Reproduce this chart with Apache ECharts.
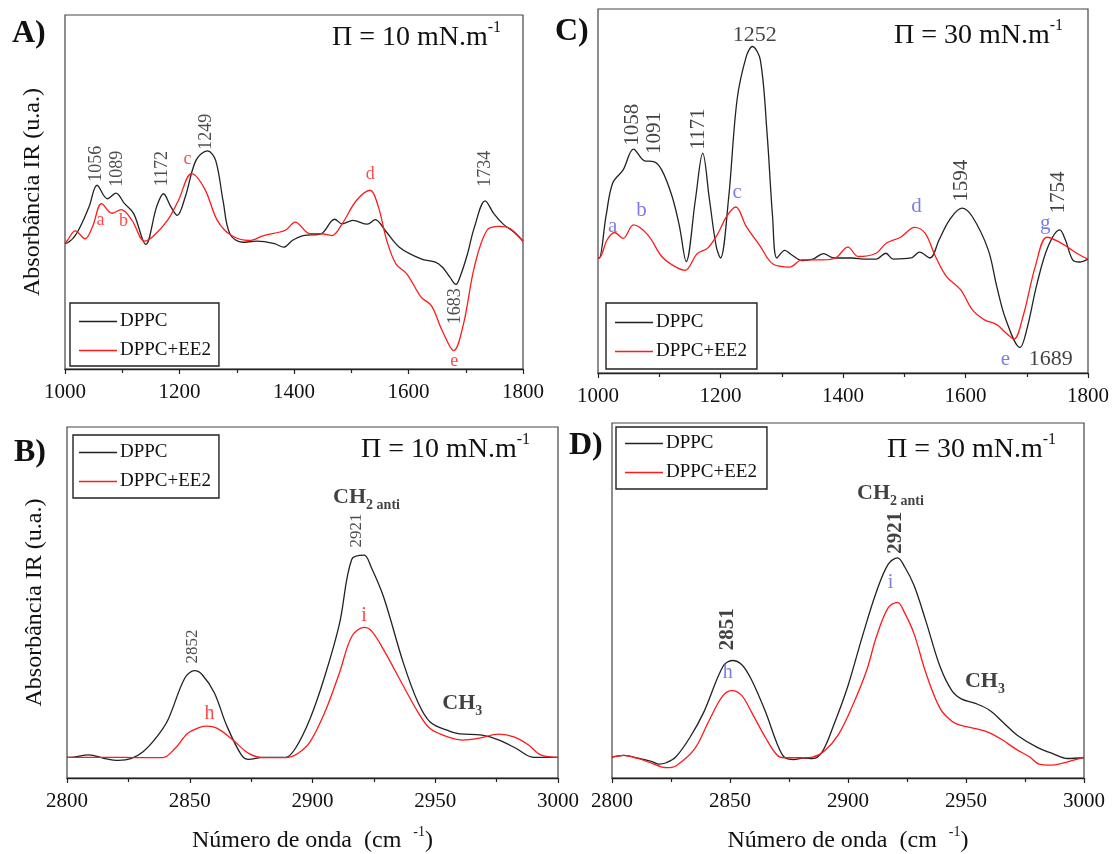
<!DOCTYPE html>
<html>
<head>
<meta charset="utf-8">
<script src="https://cdn.jsdelivr.net/npm/echarts@6/dist/echarts.min.js"></script>
<style>
  html, body { margin: 0; padding: 0; background: #fff; }
  #chart { width: 1112px; height: 854px; }
</style>
</head>
<body>
<div id="chart"></div>
<script>
// ---- Spectra: [wavenumber (cm-1), absorbance (a.u., 0-100 scale)] ----
const A_DPPC = [[1000,35.5],[1004,35.6],[1020,38.2],[1042,45.8],[1056,51.9],[1074,48.1],[1089,49.7],[1104,46.7],[1120,43.9],[1141,35.2],[1160,45.8],[1172,49.5],[1185,45.8],[1196,43.4],[1210,48.6],[1229,59],[1249,61.6],[1263,59],[1276,47.6],[1288,38.2],[1310,35.8],[1335,36.1],[1366,35.4],[1382,34.4],[1397,36.3],[1416,37.7],[1447,38.2],[1471,42.3],[1484,41],[1503,42],[1528,40.9],[1542,42.2],[1559,39.2],[1584,34.4],[1622,31.1],[1647,30.2],[1659,28.8],[1672,26],[1683,23.9],[1690,26],[1703,32.5],[1715,40],[1734,47.5],[1749,43.9],[1765,41],[1784,38.7],[1800,36.1]];
const A_EE2 = [[1000,35.5],[1004,36.3],[1018,39],[1035,36.8],[1048,40.2],[1064,46.7],[1082,44],[1098,45],[1117,42],[1139,36.1],[1154,37.5],[1179,42],[1198,47.6],[1221,55.2],[1244,50.9],[1266,42],[1291,37.7],[1322,36.3],[1347,37.7],[1385,39.2],[1402,41.5],[1428,38.2],[1447,38.2],[1466,37.7],[1484,41],[1509,47.6],[1533,50.5],[1547,46],[1562,36.3],[1578,29.7],[1597,26.9],[1622,20.3],[1640,17.9],[1659,10.8],[1679,5.2],[1696,12.7],[1715,28.8],[1737,39.2],[1759,40.3],[1778,39.6],[1800,36.1]];
const C_DPPC = [[1000,31.6],[1002,31.6],[1013,43],[1024,52.2],[1041,55.8],[1058,61.5],[1076,58.3],[1091,58.1],[1104,55.8],[1121,48.5],[1133,40.3],[1144,30.6],[1159,47.6],[1171,60.4],[1182,47.6],[1193,34.8],[1200,31.6],[1213,47.6],[1227,75],[1242,86.9],[1252,89.7],[1265,86],[1276,65.9],[1285,43],[1292,31.6],[1305,33.7],[1316,32.5],[1333,30.9],[1351,31.3],[1368,32.8],[1385,31.6],[1414,31.6],[1437,31.3],[1454,31.3],[1470,32.9],[1482,31.3],[1511,31.6],[1525,33.2],[1542,31.6],[1557,36.6],[1574,42.1],[1594,45.3],[1611,43],[1637,33.9],[1651,23.8],[1666,14.6],[1689,7],[1700,11.9],[1717,24.7],[1735,34.8],[1754,39.3],[1763,36.6],[1775,31.1],[1786,30.5],[1800,31.3]];
const C_EE2 = [[1000,31.6],[1002,31.6],[1015,36.6],[1027,38.6],[1041,37],[1058,40.7],[1081,38],[1104,32],[1121,29.7],[1142,28.2],[1162,32.8],[1179,34.3],[1196,38.4],[1210,43],[1225,45.6],[1242,40.3],[1265,34.8],[1285,30],[1313,29.1],[1333,31.1],[1368,31.1],[1388,31.6],[1408,34.6],[1425,32],[1454,32.9],[1471,35.7],[1494,37.3],[1517,40],[1534,38.4],[1551,32],[1569,26.5],[1592,22.9],[1611,17.4],[1631,14.6],[1651,13.3],[1666,11],[1679,9.3],[1694,15.6],[1714,29.3],[1733,37.3],[1752,36.1],[1769,34.3],[1786,32.5],[1800,31.3]];
const B_DPPC = [[2800,5.9],[2801,5.9],[2809,6.6],[2815,5.6],[2821,5],[2826,5.5],[2831,7.5],[2836,11.2],[2841,16.4],[2848,28.5],[2852,30.6],[2855,29.5],[2860,24.3],[2865,15],[2871,6.6],[2874,5.3],[2880,5.9],[2889,5.9],[2893,8.4],[2899,16.9],[2905,29],[2911,44],[2916,62.3],[2921,63.5],[2924,59.9],[2929,51.5],[2937,32.8],[2943,21.5],[2948,15.9],[2956,13.3],[2960,12.6],[2969,12.2],[2976,10.8],[2983,8.4],[2990,5.9],[3000,5.9]];
const B_EE2 = [[2800,5.9],[2816,5.9],[2831,5.8],[2839,5.8],[2844,8.4],[2849,12.6],[2854,14.4],[2857,14.8],[2861,14.2],[2867,11.2],[2874,7],[2880,5.8],[2889,5.8],[2894,7],[2899,10.3],[2905,18.7],[2911,30],[2916,40.3],[2921,42.9],[2924,41.9],[2929,36.5],[2937,26.2],[2943,18.7],[2948,14],[2956,11.5],[2961,10.8],[2967,11.2],[2976,12.5],[2982,11.7],[2988,9.4],[2993,6.6],[3000,5.9]];
const D_DPPC = [[2800,5.9],[2805,6.4],[2811,5.6],[2817,4.6],[2820,3.9],[2823,4.3],[2827,5.9],[2833,11.4],[2839,18.7],[2847,31.4],[2851,33.1],[2855,31.9],[2859,27.8],[2865,18.7],[2870,9.6],[2873,5.9],[2877,5.2],[2881,5.6],[2885,5.5],[2889,7.3],[2894,15],[2900,26],[2906,39.7],[2912,52.4],[2917,60.2],[2921,62],[2924,59.5],[2928,54.2],[2933,44.2],[2939,31.4],[2944,24.6],[2948,22.3],[2954,21],[2960,19.1],[2966,15.5],[2972,11.9],[2980,8.7],[2987,6.8],[2993,5.5],[3000,5.7]];
const D_EE2 = [[2800,5.9],[2805,6.4],[2811,5.5],[2817,4.1],[2823,2.9],[2827,3.4],[2835,8.2],[2841,16],[2847,23.2],[2851,24.6],[2855,23.2],[2859,18.7],[2865,11.4],[2870,6.4],[2873,5.7],[2881,5.7],[2885,5.9],[2890,7.6],[2896,12.3],[2902,20.5],[2908,30.5],[2912,39.7],[2917,47.9],[2921,49.5],[2924,46.5],[2928,40.6],[2933,29.6],[2939,19.6],[2944,16],[2948,14.8],[2954,13.9],[2959,13],[2965,10.9],[2971,8.2],[2977,5.9],[2981,3.9],[2986,3.6],[2991,4.2],[3000,5.9]];

// ---- Band annotations: [x, y, text] ----
const A_BANDS = [[1054,58,'1056'],[1092,56.6,'1089'],[1170,56.6,'1172'],[1247,67,'1249'],[1734,56.6,'1734'],[1682,17.7,'1683']];
const A_MARKS = [[1062,42,'a'],[1102,41.8,'b'],[1214,59.2,'c'],[1533,55,'d'],[1680,2.1,'e']];
const C_BANDS = [[1056,68.2,'1058'],[1093,65.9,'1091'],[1164,67,'1171'],[1594,52.8,'1594'],[1752,49.6,'1754']];
const C_BANDS_FLAT = [[1256,92.9,'1252'],[1739,3.8,'1689']];
const C_MARKS = [[1024,40.3,'a'],[1071,44.6,'b'],[1227,49.6,'c'],[1520,45.7,'d'],[1665,3.7,'e'],[1730,41.2,'g']];
const B_BANDS = [[2851,37.5,'2852'],[2918,70.5,'2921']];
const B_MARKS = [[2858,18.3,'h'],[2921,46.3,'i']];
const B_GROUPS = [[2922,79.6,'CH','2 anti'],[2961,21.1,'CH','3']];
const D_BANDS = [[2849,41.9,'2851'],[2920,69.1,'2921']];
const D_MARKS = [[2849,29.6,'h'],[2918,55,'i']];
const D_GROUPS = [[2918,79.8,'CH','2 anti'],[2958,26.9,'CH','3']];

// ---- Axis settings ----
const LOW_RANGE = [1000, 1800, 200];
const HIGH_RANGE = [2800, 3000, 50];
const PRESSURES = ['10', '30', '10', '30'];
const PANEL_TAGS = ['A)', 'C)', 'B)', 'D)'];
const SERIES_NAMES = ['DPPC', 'DPPC+EE2'];

const SERIF = '"Liberation Serif", "Times New Roman", serif';
const BLACK = '#222';
const RED = '#ff1a1a';
const BLUE = '#5b5bdc';

// panel boxes: A, C, B, D
const grids = [
  { left: 65, top: 15, width: 458, height: 354 },
  { left: 598, top: 9, width: 491, height: 364 },
  { left: 67, top: 427, width: 491, height: 356 },
  { left: 612, top: 423, width: 472, height: 365 }
].map(g => Object.assign(g, { show: true, borderColor: '#444', borderWidth: 1.2 }));

function xAxisFor(i, range, name) {
  const ax = {
    gridIndex: i, type: 'value', min: range[0], max: range[1], interval: range[2],
    axisLine: { show: true, onZero: false, lineStyle: { color: '#222', width: 1.4 } },
    axisTick: { show: true, length: 5, lineStyle: { color: '#222', width: 1.2 } },
    minorTick: { show: true, splitNumber: 2, length: 4, lineStyle: { color: '#222', width: 1.2 } },
    axisLabel: { fontFamily: SERIF, fontSize: 21, color: '#111', margin: 13, formatter: v => String(v) },
    splitLine: { show: false }
  };
  if (name) {
    ax.name = '{n|Número de onda  (cm  }{s|-1}{n|)}';
    ax.nameLocation = 'middle';
    ax.nameGap = 47;
    ax.nameTextStyle = {
      rich: {
        n: { fontFamily: SERIF, fontSize: 24, color: '#111', lineHeight: 28, verticalAlign: 'bottom' },
        s: { fontFamily: SERIF, fontSize: 14, color: '#111', lineHeight: 28, verticalAlign: 'top', padding: [0, 0, 10, 0] }
      }
    };
  }
  return ax;
}
function yAxisFor(i, name) {
  const ax = {
    gridIndex: i, type: 'value', min: 0, max: 100,
    axisLine: { show: false }, axisTick: { show: false }, axisLabel: { show: false }, splitLine: { show: false }
  };
  if (name) {
    ax.name = 'Absorbância IR (u.a.)';
    ax.nameLocation = 'middle';
    ax.nameGap = 20;
    ax.nameTextStyle = { fontFamily: SERIF, fontSize: 24, color: '#111' };
  }
  return ax;
}

function spectrum(i, name, data, color) {
  return {
    type: 'line', name: name, xAxisIndex: i, yAxisIndex: i, data: data,
    showSymbol: false, symbol: 'none', smooth: 0.35,
    lineStyle: { color: color, width: 1.3 }, itemStyle: { color: color },
    silent: true, z: 3
  };
}

function textSeries(i, rows, opts) {
  return {
    type: 'scatter', xAxisIndex: i, yAxisIndex: i, silent: true, z: 6,
    symbolSize: 1, itemStyle: { color: 'rgba(0,0,0,0)' },
    data: rows.map(r => ({ value: [r[0], r[1]], label: { formatter: r[2] } })),
    label: {
      show: true, position: 'inside', rotate: opts.rotate || 0,
      fontFamily: SERIF, fontSize: opts.size, fontWeight: opts.weight || 'normal',
      color: opts.color, align: 'center', verticalAlign: 'middle'
    }
  };
}

// chemical group captions with a subscript part
function groupSeries(i, rows) {
  return {
    type: 'scatter', xAxisIndex: i, yAxisIndex: i, silent: true, z: 6,
    symbolSize: 1, itemStyle: { color: 'rgba(0,0,0,0)' },
    data: rows.map(r => ({ value: [r[0], r[1]], label: { formatter: '{m|' + r[2] + '}{s|' + r[3] + '}' } })),
    label: {
      show: true, position: 'inside', align: 'center', verticalAlign: 'middle',
      rich: {
        m: { fontFamily: SERIF, fontSize: 22, fontWeight: 'bold', color: '#111', lineHeight: 24, verticalAlign: 'top' },
        s: { fontFamily: SERIF, fontSize: 14, fontWeight: 'bold', color: '#111', lineHeight: 14, verticalAlign: 'top', padding: [12, 0, 0, 0] }
      }
    }
  };
}

// legend boxes
const legendBoxes = [
  { left: 70, top: 303, padding: [8, 8, 5, 9] },
  { left: 606, top: 303, padding: [9, 10, 7, 9] },
  { left: 73, top: 435, padding: [7, 8, 6, 6] },
  { left: 616, top: 427, padding: [6, 10, 6, 9] }
].map(l => Object.assign(l, {
  orient: 'vertical', data: SERIES_NAMES, icon: 'rect', itemWidth: 38, itemHeight: 1.6, itemGap: 8,
  borderColor: '#222', borderWidth: 1.4, backgroundColor: '#fff', selectedMode: false,
  textStyle: { fontFamily: SERIF, fontSize: 19, color: '#111', lineHeight: 21, padding: [0, 0, 0, -2] }
}));

// panel tags and surface pressure captions
const tagPos = [[12, 18], [555, 16], [14, 437], [569, 430]];
const piPos = [[332, 20], [894, 18], [361, 432], [887, 432]];
const titles = [];
PANEL_TAGS.forEach((t, k) => titles.push({
  text: t, left: tagPos[k][0], top: tagPos[k][1], padding: 0,
  textStyle: { fontFamily: SERIF, fontSize: 32, fontWeight: 'bold', color: '#111' }
}));
PRESSURES.forEach((p, k) => titles.push({
  text: '{m|\u03A0 = ' + p + ' mN.m}{s|-1}', left: piPos[k][0], top: piPos[k][1], padding: 0,
  textStyle: {
    fontWeight: 'normal',
    rich: {
      m: { fontFamily: SERIF, fontSize: 28, fontWeight: 'normal', color: '#111', lineHeight: 32, verticalAlign: 'bottom' },
      s: { fontFamily: SERIF, fontSize: 16, fontWeight: 'normal', color: '#111', lineHeight: 32, verticalAlign: 'top', padding: [0, 0, 14, 0] }
    }
  }
}));

const series = [
  spectrum(0, 'DPPC', A_DPPC, BLACK), spectrum(0, 'DPPC+EE2', A_EE2, RED),
  spectrum(1, 'DPPC', C_DPPC, BLACK), spectrum(1, 'DPPC+EE2', C_EE2, RED),
  spectrum(2, 'DPPC', B_DPPC, BLACK), spectrum(2, 'DPPC+EE2', B_EE2, RED),
  spectrum(3, 'DPPC', D_DPPC, BLACK), spectrum(3, 'DPPC+EE2', D_EE2, RED),
  textSeries(0, A_BANDS, { size: 18, color: '#222', rotate: 90 }),
  textSeries(0, A_MARKS, { size: 18, color: RED }),
  textSeries(1, C_BANDS, { size: 21, color: '#111', rotate: 90 }),
  textSeries(1, C_BANDS_FLAT, { size: 22, color: '#111' }),
  textSeries(1, C_MARKS, { size: 21, color: BLUE }),
  textSeries(2, B_BANDS, { size: 17, color: '#222', rotate: 90 }),
  textSeries(2, B_MARKS, { size: 20, color: RED }),
  groupSeries(2, B_GROUPS),
  textSeries(3, D_BANDS, { size: 21, color: '#111', rotate: 90, weight: 'bold' }),
  textSeries(3, D_MARKS, { size: 20, color: BLUE }),
  groupSeries(3, D_GROUPS)
];

const chart = echarts.init(document.getElementById('chart'), null, { renderer: 'canvas' });
chart.setOption({
  backgroundColor: '#fff',
  animation: false,
  title: titles,
  legend: legendBoxes,
  grid: grids,
  xAxis: [xAxisFor(0, LOW_RANGE), xAxisFor(1, LOW_RANGE), xAxisFor(2, HIGH_RANGE, true), xAxisFor(3, HIGH_RANGE, true)],
  yAxis: [yAxisFor(0, true), yAxisFor(1), yAxisFor(2, true), yAxisFor(3)],
  series: series
});
</script>
</body>
</html>
